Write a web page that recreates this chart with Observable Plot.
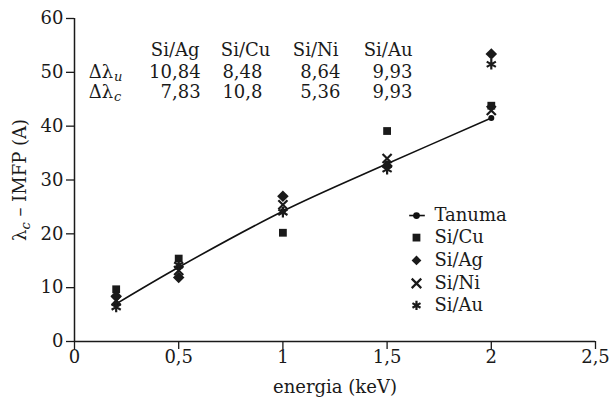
<!DOCTYPE html>
<html><head><meta charset="utf-8">
<script src="https://cdn.jsdelivr.net/npm/d3@7"></script>
<script src="https://cdn.jsdelivr.net/npm/@observablehq/plot@0.6"></script>
<style>
body{margin:0;background:#fff;}
#chart svg, #chart svg text{font-family:"DejaVu Serif",serif;}
</style>
</head><body><div id="chart"></div>
<script>
// ---- data ----
const energies = [0.2, 0.5, 1, 1.5, 2];
const tanuma = [7.0, 13.8, 24.2, 33.0, 41.5];
const siCu = [9.7, 15.4, 20.2, 39.1, 43.8];
const siAg = [8.4, 11.9, 27.0, 32.6, 53.4];
const siNi = [7.6, 13.2, 25.4, 34.0, 42.9];
const siAu = [6.4, 14.2, 24.0, 32.0, 51.5];
const seriesNames = ["Tanuma", "Si/Cu", "Si/Ag", "Si/Ni", "Si/Au"];
const tableHeaders = ["Si/Ag", "Si/Cu", "Si/Ni", "Si/Au"];
const deltaU = ["10,84", "8,48", "8,64", "9,93"];
const deltaC = ["7,83", "10,8", "5,36", "9,93"];
const xTicks = [0, 0.5, 1, 1.5, 2, 2.5];
const yTicks = [0, 10, 20, 30, 40, 50, 60];

// ---- layout (annotation placement, in data units) ----
const headX = [0.6, 0.94, 1.267, 1.622];
const colX = [0.605, 0.902, 1.276, 1.622];
const rowY = [54.1, 50.1, 46.3];
const rowLabelX = 0.185;
const legendSymX = 1.641, legendTextX = 1.727;
const legendY = [23.4, 19.3, 15.05, 10.8, 6.7];

const pts = (arr) => energies.map((e, i) => ({x: e, y: arr[i]}));
const fmt = (d) => String(d).replace(".", ",");

const headerRows = tableHeaders.map((t, i) => ({x: headX[i], y: rowY[0], t}));
const uRows = deltaU.map((t, i) => ({x: colX[i], y: rowY[1], t}));
const cRows = deltaC.map((t, i) => ({x: colX[i], y: rowY[2], t}));
const legendSym = ["square", "diamond2", "times", "asterisk"].map((s, i) => ({x: legendSymX, y: legendY[i + 1], s}));
const legendTxt = seriesNames.map((t, i) => ({x: legendTextX, y: legendY[i], t}));

const FS = 18, SUB = 13;
const INK = "#1a1a1a";
const plot = Plot.plot({
  width: 609, height: 398,
  marginLeft: 74, marginRight: 14, marginTop: 18, marginBottom: 57,
  style: {fontFamily: "'DejaVu Serif', serif", fontSize: FS + "px", color: INK, background: "#fff"},
  x: {domain: [0, 2.5], label: null},
  y: {domain: [0, 60], label: null},
  symbol: {domain: ["square","diamond2","times","asterisk"], range: ["square","diamond2","times","asterisk"]},
  marks: [
    Plot.axisY({ticks: yTicks, tickSize: 8, tickPadding: 3, tickFormat: fmt, fontSize: FS, stroke: INK, strokeWidth: 1.3}),
    Plot.axisX({ticks: xTicks, tickSize: 8, tickPadding: 1, tickFormat: fmt, fontSize: FS, stroke: INK, strokeWidth: 1.3}),
    Plot.ruleX([0], {stroke: INK, strokeWidth: 1.5}),
    Plot.ruleY([0], {stroke: INK, strokeWidth: 1.5}),
    Plot.text(["energia (keV)"], {frameAnchor: "bottom", dy: 51, fontSize: FS, fill: INK}),
    // Tanuma line
    Plot.line(pts(tanuma), {x: "x", y: "y", curve: "catmull-rom", stroke: "#111", strokeWidth: 1.6}),
    Plot.dot(pts(tanuma), {x: "x", y: "y", r: 3, fill: "#111", stroke: "none"}),
    // series
    Plot.dot(pts(siCu), {x: "x", y: "y", symbol: () => "square", r: 4.4, fill: INK, stroke: "none"}),
    Plot.dot(pts(siAg), {x: "x", y: "y", symbol: () => "diamond2", r: 5.2, fill: INK, stroke: "none"}),
    Plot.dot(pts(siNi), {x: "x", y: "y", symbol: () => "times", r: 4.2, stroke: INK, strokeWidth: 2.2, fill: "none"}),
    Plot.dot(pts(siAu), {x: "x", y: "y", symbol: () => "asterisk", r: 5, stroke: INK, strokeWidth: 2.2, fill: "none"}),
    // table
    Plot.text(headerRows, {x: "x", y: "y", text: "t", textAnchor: "end", fontSize: FS, fill: INK}),
    Plot.text(uRows, {x: "x", y: "y", text: "t", textAnchor: "end", fontSize: FS, fill: INK}),
    Plot.text(cRows, {x: "x", y: "y", text: "t", textAnchor: "end", fontSize: FS, fill: INK}),
    Plot.text([{y: rowY[1]}, {y: rowY[2]}], {x: () => rowLabelX, y: "y", text: () => "Δλ", textAnchor: "end", fontSize: FS, fill: INK}),
    Plot.text([{y: rowY[1], t: "u"}, {y: rowY[2], t: "c"}], {x: () => rowLabelX, y: "y", text: "t", textAnchor: "start", dx: 1, dy: 5, fontSize: SUB, fontStyle: "italic", fill: INK}),
    // legend
    Plot.link([{y: legendY[0]}], {x1: () => legendSymX - 0.035, x2: () => legendSymX + 0.04, y1: "y", y2: "y", stroke: "#111", strokeWidth: 1.6}),
    Plot.dot([{y: legendY[0]}], {x: () => legendSymX, y: "y", r: 3.4, fill: "#111", stroke: "none"}),
    Plot.dot(legendSym.slice(0, 2), {x: "x", y: "y", symbol: "s", r: 4.4, fill: INK, stroke: "none"}),
    Plot.dot(legendSym.slice(2), {x: "x", y: "y", symbol: "s", r: 4.4, stroke: INK, strokeWidth: 2.2, fill: "none"}),
    Plot.text(legendTxt, {x: "x", y: "y", text: "t", textAnchor: "start", fontSize: FS, fill: INK})
  ]
});
document.getElementById("chart").appendChild(plot);

// y-axis title with italic subscript
const svg = d3.select(plot);
const yl = svg.append("text")
  .attr("transform", "translate(26,180) rotate(-90)")
  .attr("text-anchor", "middle")
  .attr("font-size", FS)
  .attr("fill", INK);
yl.append("tspan").text("λ");
yl.append("tspan").attr("font-style", "italic").attr("font-size", SUB).attr("dy", 4).text("c");
yl.append("tspan").attr("dy", -4).text(" – IMFP (A)");
</script></body></html>
